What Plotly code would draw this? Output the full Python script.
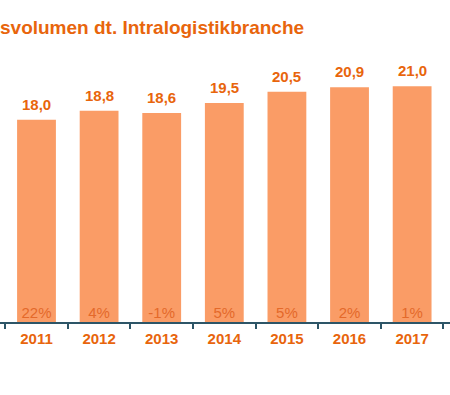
import plotly.graph_objects as go

years = ["2011", "2012", "2013", "2014", "2015", "2016", "2017"]
values = [18.0, 18.8, 18.6, 19.5, 20.5, 20.9, 21.0]
value_labels = ["18,0", "18,8", "18,6", "19,5", "20,5", "20,9", "21,0"]
growth_labels = ["22%", "4%", "-1%", "5%", "5%", "2%", "1%"]
title_text = "svolumen dt. Intralogistikbranche"

FONT = "Liberation Sans, Arial, sans-serif"
ORANGE = "#E8650C"
BAR = "#FA9C66"

fig = go.Figure()
fig.add_trace(go.Bar(
    x=years, y=values,
    marker=dict(color=BAR, line=dict(width=0)),
    width=0.62, hoverinfo="x+y",
))
fig.add_trace(go.Scatter(
    x=years, y=[0] * len(years), mode="text",
    text=growth_labels, textposition="top center",
    textfont=dict(family=FONT, size=15, color="#E4692A"),
    cliponaxis=False, hoverinfo="skip",
))

for i, (v, lab) in enumerate(zip(values, value_labels)):
    fig.add_annotation(
        x=i, y=v, text="<b>" + lab + "</b>", showarrow=False, yanchor="bottom", yshift=5,
        font=dict(family=FONT, size=15, color=ORANGE),
    )

fig.add_annotation(
    text="<b>" + title_text + "</b>", xref="paper", yref="paper", x=0, y=1,
    xanchor="left", yanchor="bottom",
    yshift=-10, xshift=-2, showarrow=False,
    font=dict(family=FONT, size=19, color=ORANGE),
)

fig.update_layout(
    width=450, height=395,
    margin=dict(l=0, r=0, t=30, b=73),
    paper_bgcolor="white", plot_bgcolor="white",
    showlegend=False,
    xaxis=dict(
        type="category", range=[-0.583, 6.605],
        tickson="boundaries", ticks="outside", ticklen=5, tickwidth=1.5, tickcolor="#2D5567",
        showline=True, linecolor="#2D5567", linewidth=1.5,
        showgrid=False, zeroline=False,
        tickvals=years, ticktext=["<b>" + y + "</b>" for y in years],
        ticklabelstandoff=2,
        tickfont=dict(family=FONT, size=15, color=ORANGE),
    ),
    yaxis=dict(range=[0, 26], visible=False, showgrid=False, zeroline=False),
)

fig.write_html("out.html", config={"displayModeBar": False},
               post_script="document.body.style.margin='0';")
